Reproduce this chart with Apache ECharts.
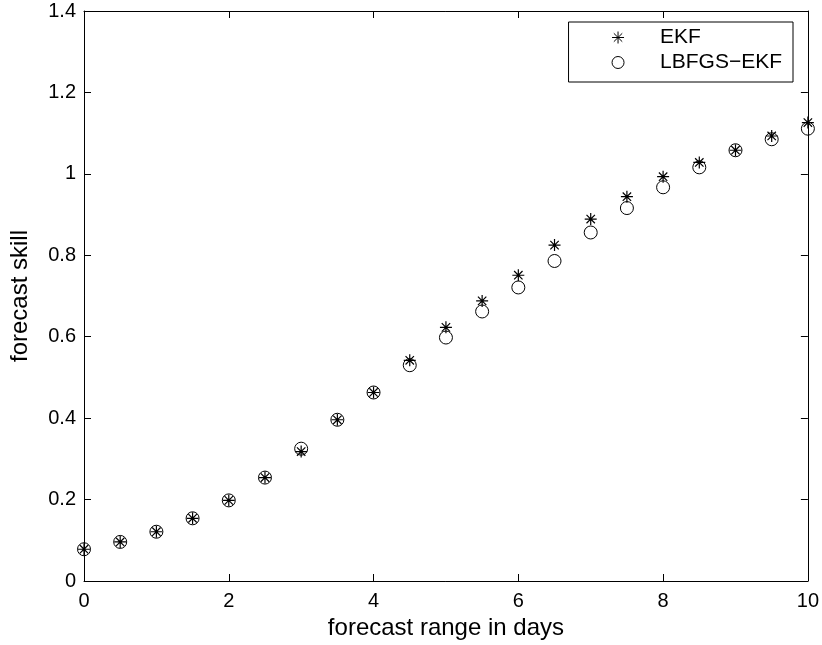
<!DOCTYPE html>
<html>
<head>
<meta charset="utf-8">
<script src="https://cdn.jsdelivr.net/npm/echarts@6/dist/echarts.min.js"></script>
<style>
  html, body { margin: 0; padding: 0; background: #fff; }
  #main { width: 822px; height: 645px; }
</style>
</head>
<body>
<div id="main"></div>
<script>
const days = [0, 0.5, 1, 1.5, 2, 2.5, 3, 3.5, 4, 4.5, 5, 5.5, 6, 6.5, 7, 7.5, 8, 8.5, 9, 9.5, 10];
const ekf = [0.078, 0.096, 0.121, 0.154, 0.198, 0.254, 0.318, 0.396, 0.463, 0.542, 0.623,
  0.688, 0.751, 0.825, 0.889, 0.944, 0.993, 1.028, 1.058, 1.093, 1.126];
const lbfgsEkf = [0.078, 0.096, 0.121, 0.154, 0.198, 0.254, 0.325, 0.396, 0.463, 0.530, 0.598,
  0.662, 0.721, 0.786, 0.856, 0.916, 0.967, 1.016, 1.058, 1.085, 1.111];
const seriesNames = ["EKF", "LBFGS\u2212EKF"];

const font = "'Liberation Sans', Arial, Helvetica, sans-serif";
const asterisk = "path://M5,0L5,10M0,5L10,5M1.5,1.5L8.5,8.5M1.5,8.5L8.5,1.5";

function pairs(xs, ys) {
  return xs.map((x, i) => [x, ys[i]]);
}

function frameAxis(extra) {
  return Object.assign({
    type: "value",
    axisLine: { show: true, onZero: false, lineStyle: { color: "#000", width: 1 } },
    axisTick: { show: true, inside: true, length: 7, lineStyle: { color: "#000" } },
    splitLine: { show: false },
  }, extra);
}

const chart = echarts.init(document.getElementById("main"));
chart.setOption({
  backgroundColor: "#fff",
  animation: false,
  textStyle: { fontFamily: font },
  grid: { left: 83, right: 13, top: 11, bottom: 63 },
  legend: {
    orient: "vertical",
    right: 29,
    top: 22,
    borderColor: "#000",
    borderWidth: 1,
    padding: [5, 11, 9, 41],
    itemGap: 4,
    itemWidth: 12,
    itemHeight: 12,
    textStyle: { fontFamily: font, fontSize: 21, color: "#000", lineHeight: 21, padding: [0, 0, 0, 31] },
    data: [
      { name: seriesNames[0], icon: asterisk, itemStyle: { color: "none", borderColor: "#000", borderWidth: 1 } },
      { name: seriesNames[1], icon: "circle", itemStyle: { color: "none", borderColor: "#000", borderWidth: 1 } },
    ],
  },
  xAxis: [
    frameAxis({
      position: "bottom", min: 0, max: 10, interval: 2,
      name: "forecast range in days", nameLocation: "middle", nameGap: 35,
      nameTextStyle: { fontFamily: font, fontSize: 24, color: "#000" },
      axisLabel: { fontFamily: font, fontSize: 20, color: "#000", margin: 10 },
    }),
    frameAxis({ position: "top", min: 0, max: 10, interval: 2, axisLabel: { show: false } }),
  ],
  yAxis: [
    frameAxis({
      position: "left", min: 0, max: 1.4, interval: 0.2,
      name: "forecast skill", nameLocation: "middle", nameGap: 52,
      nameTextStyle: { fontFamily: font, fontSize: 24, color: "#000" },
      axisLabel: { fontFamily: font, fontSize: 20, color: "#000", margin: 8 },
    }),
    frameAxis({ position: "right", min: 0, max: 1.4, interval: 0.2, axisLabel: { show: false } }),
  ],
  series: [
    {
      name: seriesNames[0],
      type: "scatter",
      clip: false,
      symbol: asterisk,
      symbolSize: 12,
      itemStyle: { color: "none", borderColor: "#000", borderWidth: 1.2, opacity: 1 },
      data: pairs(days, ekf),
      z: 3,
    },
    {
      name: seriesNames[1],
      type: "scatter",
      clip: false,
      symbol: "circle",
      symbolSize: 13,
      itemStyle: { color: "none", borderColor: "#000", borderWidth: 1, opacity: 1 },
      data: pairs(days, lbfgsEkf),
      z: 2,
    },
  ],
});
</script>
</body>
</html>
